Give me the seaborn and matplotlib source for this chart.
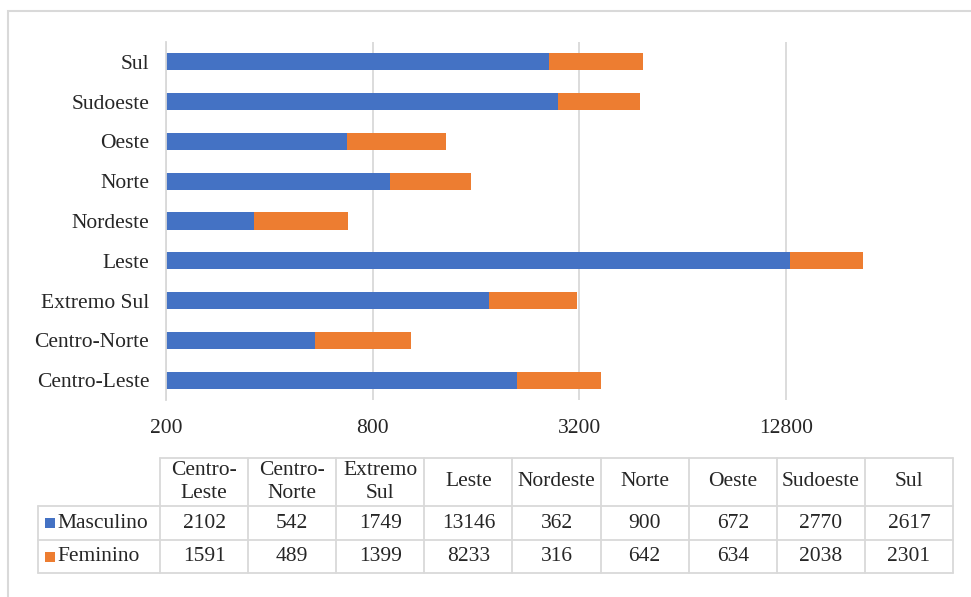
import numpy as np
import pandas as pd
import matplotlib
matplotlib.use("Agg")
import matplotlib.pyplot as plt
from matplotlib.patches import Rectangle
from matplotlib.lines import Line2D
import seaborn as sns

# Regions (table order) and counts by sex
regions = ["Centro-Leste", "Centro-Norte", "Extremo Sul", "Leste", "Nordeste",
           "Norte", "Oeste", "Sudoeste", "Sul"]
header_labels = ["Centro-\nLeste", "Centro-\nNorte", "Extremo\nSul", "Leste", "Nordeste",
                 "Norte", "Oeste", "Sudoeste", "Sul"]
masculino = [2102, 542, 1749, 13146, 362, 900, 672, 2770, 2617]
feminino = [1591, 489, 1399, 8233, 316, 642, 634, 2038, 2301]
x_ticks = [200, 800, 3200, 12800]
series_names = ["Masculino", "Feminino"]

BLUE = "#4472C4"
ORANGE = "#ED7D31"
GRID = "#D9D9D9"
TEXT = "#262626"
FS = 15.5

sns.set_theme(style="white")
plt.rcParams["font.family"] = ["Liberation Serif", "DejaVu Serif"]

W, H = 971, 597
fig = plt.figure(figsize=(W / 100, H / 100), dpi=100)
fig.patch.set_facecolor("white")


def fx(px):
    return px / W


def fy(py):
    return 1 - py / H


df = pd.DataFrame({"regiao": regions, "Masculino": masculino, "Feminino": feminino})
df["total"] = df["Masculino"] + df["Feminino"]
order = regions[::-1]  # Sul at the top

ax = fig.add_axes([fx(166), fy(400), fx(971) - fx(166), fy(42) - fy(400)])
ax.set_xscale("log", base=4)
sns.barplot(data=df, y="regiao", x="total", order=order, color=ORANGE,
            width=0.43, orient="y", saturation=1, ax=ax, errorbar=None,
            linewidth=0, edgecolor="none")
sns.barplot(data=df, y="regiao", x="Masculino", order=order, color=BLUE,
            width=0.43, orient="y", saturation=1, ax=ax, errorbar=None,
            linewidth=0, edgecolor="none")

x_max = 200 * 4 ** ((971 - 166) / 206.7)
ax.set_xlim(200, x_max)
ax.set_ylim(len(order) - 0.5, -0.5)
ax.xaxis.set_major_locator(matplotlib.ticker.FixedLocator(x_ticks))
ax.xaxis.set_minor_locator(matplotlib.ticker.NullLocator())
ax.set_xticklabels([str(t) for t in x_ticks], fontsize=FS, color=TEXT)
ax.tick_params(axis="x", length=0, pad=14)
ax.tick_params(axis="y", length=0, pad=12, labelsize=FS, labelcolor=TEXT)
ax.set_xlabel("")
ax.set_ylabel("")
ax.grid(axis="x", color=GRID, linewidth=1.3)
ax.set_axisbelow(True)
for s in ["top", "right", "bottom"]:
    ax.spines[s].set_visible(False)
ax.spines["left"].set_color(GRID)
ax.spines["left"].set_linewidth(1.3)

# Outer chart frame
fig.add_artist(Rectangle((fx(8), fy(640)), fx(1100), fy(11) - fy(640),
                         transform=fig.transFigure, fill=False,
                         edgecolor=GRID, linewidth=1.5))

# Data table under the chart
col_edges = [160 + i * (953 - 160) / 9 for i in range(10)]
row_edges = [458, 506, 540, 573]
first_col_left = 38
lw = 1.3

def hline(y, x0, x1):
    fig.add_artist(Line2D([fx(x0), fx(x1)], [fy(y), fy(y)], color=GRID, linewidth=lw,
                          transform=fig.transFigure))


def vline(x, y0, y1):
    fig.add_artist(Line2D([fx(x), fx(x)], [fy(y0), fy(y1)], color=GRID, linewidth=lw,
                          transform=fig.transFigure))


hline(row_edges[0], col_edges[0], col_edges[-1])
for y in row_edges[1:]:
    hline(y, first_col_left, col_edges[-1])
for x in col_edges:
    vline(x, row_edges[0], row_edges[-1])
vline(first_col_left, row_edges[1], row_edges[-1])

for i, lab in enumerate(header_labels):
    cx = (col_edges[i] + col_edges[i + 1]) / 2
    cy = (row_edges[0] + row_edges[1]) / 2
    fig.text(fx(cx), fy(cy), lab, ha="center", va="center", fontsize=FS,
             color=TEXT, linespacing=1.3)

for r, (name, vals, col) in enumerate(zip(series_names, [masculino, feminino], [BLUE, ORANGE])):
    cy = (row_edges[r + 1] + row_edges[r + 2]) / 2
    fig.add_artist(Rectangle((fx(45), fy(cy + 5)), fx(10), fy(cy - 5) - fy(cy + 5),
                             transform=fig.transFigure, facecolor=col, edgecolor="none"))
    fig.text(fx(57), fy(cy), name, ha="left", va="center", fontsize=FS, color=TEXT)
    for i, v in enumerate(vals):
        cx = (col_edges[i] + col_edges[i + 1]) / 2
        fig.text(fx(cx), fy(cy), str(v), ha="center", va="center", fontsize=FS, color=TEXT)

fig.savefig("out.png", dpi=100, facecolor="white")
